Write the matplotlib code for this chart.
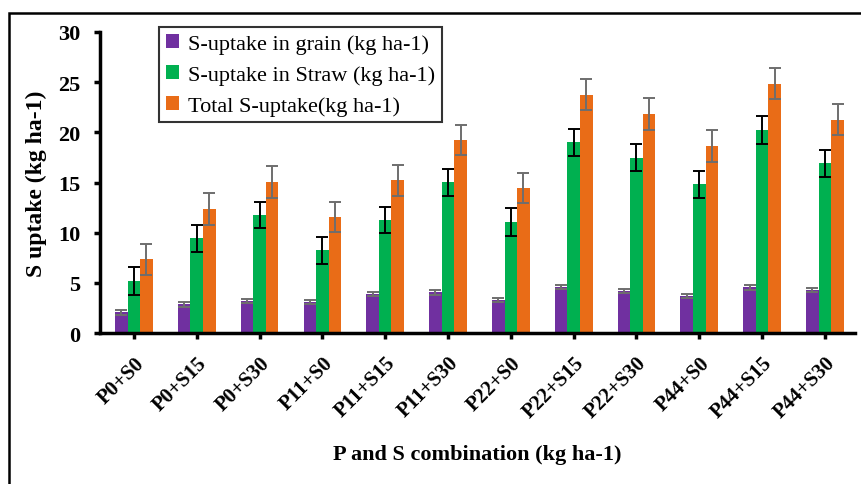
import numpy as np
import matplotlib
matplotlib.use("Agg")
import matplotlib.pyplot as plt
from matplotlib.patches import Rectangle

# data
combos = ["P0+S0", "P0+S15", "P0+S30", "P11+S0", "P11+S15", "P11+S30",
          "P22+S0", "P22+S15", "P22+S30", "P44+S0", "P44+S15", "P44+S30"]
grain = [2.1, 2.86, 3.19, 3.12, 3.89, 4.06, 3.29, 4.62, 4.22, 3.72, 4.55, 4.29]
grain_err = [0.25, 0.22, 0.22, 0.22, 0.22, 0.22, 0.22, 0.22, 0.22, 0.22, 0.22, 0.22]
straw = [5.18, 9.44, 11.76, 8.27, 11.27, 15.02, 11.07, 19.0, 17.48, 14.82, 20.24, 16.92]
straw_err = [1.38, 1.36, 1.33, 1.35, 1.33, 1.35, 1.36, 1.35, 1.35, 1.35, 1.35, 1.35]
total = [7.38, 12.36, 15.06, 11.56, 15.25, 19.24, 14.46, 23.73, 21.83, 18.64, 24.86, 21.27]
total_err = [1.55, 1.56, 1.56, 1.53, 1.55, 1.53, 1.53, 1.55, 1.55, 1.56, 1.58, 1.55]

labels = ["S-uptake in grain (kg ha-1)", "S-uptake in Straw (kg ha-1)",
          "Total S-uptake(kg ha-1)"]
colors = ["#7030A0", "#00B050", "#E96C17"]

plt.rcParams["font.family"] = ["Liberation Serif", "DejaVu Serif"]

fig = plt.figure(figsize=(8.62, 4.85), dpi=100)
ax = fig.add_axes([0.116, 0.311, 0.876, 0.621])

x = np.arange(len(combos))
w = 0.2
series = [(grain, grain_err, "#6e6e6e"), (straw, straw_err, "black"),
          (total, total_err, "#6e6e6e")]
for i, (vals, err, ecol) in enumerate(series):
    ax.bar(x + (i - 1) * w, vals, w, color=colors[i], label=labels[i],
           yerr=err, ecolor=ecol, capsize=4,
           error_kw=dict(elinewidth=1.4, capthick=1.4))

ax.set_xlim(-0.54, 11.48)
ax.set_ylim(0, 30)
ax.set_yticks(range(0, 31, 5))
ax.set_xticks(x)
ax.set_xticklabels(combos, rotation=45, ha="right", rotation_mode="anchor",
                   fontsize=15, fontweight="bold")
for t in ax.get_yticklabels():
    t.set_fontsize(16)
    t.set_fontweight("bold")

for s in ["top", "right"]:
    ax.spines[s].set_visible(False)
for s in ["left", "bottom"]:
    ax.spines[s].set_linewidth(2.5)
ax.tick_params(axis="both", direction="out", length=4, width=2.5)
ax.tick_params(axis="y", pad=10)
ax.tick_params(axis="x", pad=10)

ax.set_ylabel("S uptake (kg ha-1)", fontsize=17, fontweight="bold", labelpad=8)
ax.set_xlabel("P and S combination (kg ha-1)", fontsize=16, fontweight="bold",
              labelpad=16)

leg = ax.legend(loc="upper left", bbox_to_anchor=(0.1845, 0.942),
                bbox_transform=fig.transFigure, fontsize=16, frameon=True,
                fancybox=False, handlelength=0.6, handleheight=0.6,
                handletextpad=0.4, borderpad=0.3, labelspacing=0.5,
                borderaxespad=0)
leg.get_frame().set_edgecolor("black")
leg.get_frame().set_linewidth(1.5)

# outer border of the original chart area (runs off right and bottom)
fig.patches.append(Rectangle((9 / 862, -0.1), 1.2, 0.971 + 0.1,
                             transform=fig.transFigure, fill=False,
                             edgecolor="black", linewidth=1.8))

fig.savefig("out.png", dpi=100)
